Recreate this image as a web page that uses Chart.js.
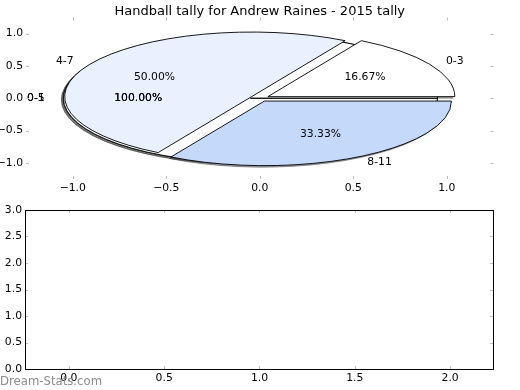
<!DOCTYPE html>
<html>
<head>
<meta charset="utf-8">
<script src="https://cdn.jsdelivr.net/npm/chart.js@4.4.0/dist/chart.umd.min.js"></script>
<style>
  body { margin: 0; background: #fff; }
  #wrap { position: relative; width: 520px; height: 390px; }
  canvas { position: absolute; left: 0; }
  #pieCanvas { top: 0; }
  #emptyCanvas { top: 195px; }
  #mark { position: absolute; left: 0; top: 374px; font: 11.7px "DejaVu Sans"; color: #8c8c8c; white-space: nowrap; }
</style>
</head>
<body>
<div id="wrap">
  <canvas id="pieCanvas" width="520" height="195"></canvas>
  <canvas id="emptyCanvas" width="520" height="195"></canvas>
  <div id="mark">Dream-Stats.com</div>
</div>
<script>
/* ---------- DATA ---------- */
const chartTitle = "Handball tally for Andrew Raines - 2015 tally";

// two single-slice pies sit underneath the main one
const backLabels = ["0-1", "0-5"];
const backValues = [1, 1];

// main pie
const sliceLabels = ["0-3", "4-7", "8-11"];
const sliceValues = [1, 3, 2];

const pieTicks = [-1.0, -0.5, 0.0, 0.5, 1.0];
const emptyXTicks = [0.0, 0.5, 1.0, 1.5, 2.0];
const emptyYTicks = [0.0, 0.5, 1.0, 1.5, 2.0, 2.5, 3.0];

/* ---------- STYLE ---------- */
const FONT = "DejaVu Sans";
const backColors = ["#ffffff", "#ffffff"];
const sliceColors = ["#ffffff", "#e9f1fe", "#c5d9fb"];
const EXPLODE = 0.05;
const LABEL_DIST = 1.1;
const PCT_DIST = 0.6;

const fmt = v => v.toFixed(1).replace("-", "\u2212");

function buildWedges() {
  const pies = [
    { labels: [backLabels[0]], values: [backValues[0]], colors: [backColors[0]] },
    { labels: [backLabels[1]], values: [backValues[1]], colors: [backColors[1]] },
    { labels: sliceLabels, values: sliceValues, colors: sliceColors }
  ];
  const out = [];
  pies.forEach(p => {
    const total = p.values.reduce((a, b) => a + b, 0);
    let acc = 0;
    p.values.forEach((v, i) => {
      const t1 = acc / total * 2 * Math.PI;
      acc += v;
      const t2 = acc / total * 2 * Math.PI;
      const mid = (t1 + t2) / 2;
      out.push({
        t1, t2, mid,
        cx: EXPLODE * Math.cos(mid),
        cy: EXPLODE * Math.sin(mid),
        color: p.colors[i],
        label: p.labels[i],
        pct: (v / total * 100).toFixed(2) + "%"
      });
    });
  });
  return out;
}

function shade(hex) {
  const n = parseInt(hex.slice(1), 16);
  const r = Math.round(((n >> 16) & 255) * 0.3);
  const g = Math.round(((n >> 8) & 255) * 0.3);
  const b = Math.round((n & 255) * 0.3);
  return `rgb(${r},${g},${b})`;
}

/* ---------- PLUGINS ---------- */
const ellipsePie = {
  id: "ellipsePie",
  afterDatasetsDraw(chart) {
    const { ctx, chartArea: a, scales: { x, y } } = chart;
    const rx = x.getPixelForValue(1) - x.getPixelForValue(0);
    const ry = y.getPixelForValue(0) - y.getPixelForValue(1);
    const wedges = buildWedges();

    const path = (w, dx, dy) => {
      const cx = x.getPixelForValue(w.cx) + dx;
      const cy = y.getPixelForValue(w.cy) + dy;
      ctx.beginPath();
      ctx.moveTo(cx, cy);
      ctx.ellipse(cx, cy, rx, ry, 0, -w.t1, -w.t2, true);
      ctx.closePath();
    };

    ctx.save();
    ctx.lineJoin = "round";
    // shadows first
    ctx.globalAlpha = 0.5;
    wedges.forEach(w => {
      path(w, -2, 1.5);
      ctx.fillStyle = shade(w.color);
      ctx.strokeStyle = shade(w.color);
      ctx.lineWidth = 1;
      ctx.fill();
      ctx.stroke();
    });
    ctx.globalAlpha = 1;
    wedges.forEach(w => {
      path(w, 0, 0);
      ctx.fillStyle = w.color;
      ctx.fill();
      ctx.strokeStyle = "#000";
      ctx.lineWidth = 0.9;
      ctx.stroke();
    });

    // texts
    ctx.font = "10.8px '" + FONT + "'";
    ctx.fillStyle = "#000";
    ctx.textBaseline = "middle";
    wedges.forEach(w => {
      const lx = w.cx + LABEL_DIST * Math.cos(w.mid);
      const ly = w.cy + LABEL_DIST * Math.sin(w.mid);
      ctx.textAlign = lx > 0 ? "left" : "right";
      ctx.fillText(w.label, x.getPixelForValue(lx), y.getPixelForValue(ly));
      const px = w.cx + PCT_DIST * Math.cos(w.mid);
      const py = w.cy + PCT_DIST * Math.sin(w.mid);
      ctx.textAlign = "center";
      ctx.fillText(w.pct, x.getPixelForValue(px), y.getPixelForValue(py));
    });

    // title, centred over the axes like matplotlib
    ctx.font = "13px '" + FONT + "'";
    ctx.textAlign = "center";
    ctx.textBaseline = "alphabetic";
    ctx.fillText(chartTitle, (a.left + a.right) / 2, 14.5);
    ctx.restore();
  }
};

// matplotlib-ish inward ticks on all four sides, optional frame
const innerTicks = {
  id: "innerTicks",
  afterDraw(chart, args, opts) {
    const { ctx, chartArea: a, scales: { x, y } } = chart;
    ctx.save();
    ctx.strokeStyle = "#bdbdbd";
    ctx.lineWidth = 1;
    ctx.beginPath();
    x.ticks.forEach(t => {
      const px = Math.round(x.getPixelForValue(t.value)) + 0.5;
      ctx.moveTo(px, a.top); ctx.lineTo(px, a.top + 3);
      ctx.moveTo(px, a.bottom); ctx.lineTo(px, a.bottom - 3);
    });
    y.ticks.forEach(t => {
      const py = Math.round(y.getPixelForValue(t.value)) + 0.5;
      ctx.moveTo(a.left, py); ctx.lineTo(a.left + 3, py);
      ctx.moveTo(a.right, py); ctx.lineTo(a.right - 3, py);
    });
    ctx.stroke();
    if (opts.frame) {
      ctx.strokeStyle = "#000";
      ctx.strokeRect(Math.round(a.left) + 0.5, Math.round(a.top) + 0.5,
        Math.round(a.right - a.left), Math.round(a.bottom - a.top));
    }
    ctx.restore();
  }
};

function axis(min, max, ticks, fitSize, isX) {
  return {
    type: "linear",
    min, max,
    grid: { display: false, drawTicks: false },
    border: { display: false },
    ticks: {
      padding: 3,
      color: "#000",
      font: { family: FONT, size: 10.8 },
      callback: v => fmt(v)
    },
    afterBuildTicks: s => { s.ticks = ticks.map(v => ({ value: v })); },
    afterFit: s => { if (isX) s.height = fitSize; else s.width = fitSize; }
  };
}

/* ---------- PIE CHART ---------- */
new Chart(document.getElementById("pieCanvas"), {
  type: "scatter",
  data: { datasets: [] },
  plugins: [ellipsePie, innerTicks],
  options: {
    responsive: false,
    animation: false,
    layout: { padding: { left: 0, right: 26.5, top: 17.5, bottom: 0 } },
    plugins: {
      legend: { display: false },
      tooltip: { enabled: false },
      title: { display: false },
      innerTicks: { frame: false }
    },
    scales: {
      x: axis(-1.25, 1.25, pieTicks, 16, true),
      y: axis(-1.25, 1.25, pieTicks, 26, false)
    }
  }
});

/* ---------- EMPTY AXES ---------- */
new Chart(document.getElementById("emptyCanvas"), {
  type: "scatter",
  data: { datasets: [] },
  plugins: [innerTicks],
  options: {
    responsive: false,
    animation: false,
    layout: { padding: { left: 0, right: 27, top: 15, bottom: 0 } },
    plugins: {
      legend: { display: false },
      tooltip: { enabled: false },
      innerTicks: { frame: true }
    },
    scales: {
      x: axis(-0.23, 2.225, emptyXTicks, 21, true),
      y: axis(0, 3, emptyYTicks, 25, false)
    }
  }
});
</script>
</body>
</html>
